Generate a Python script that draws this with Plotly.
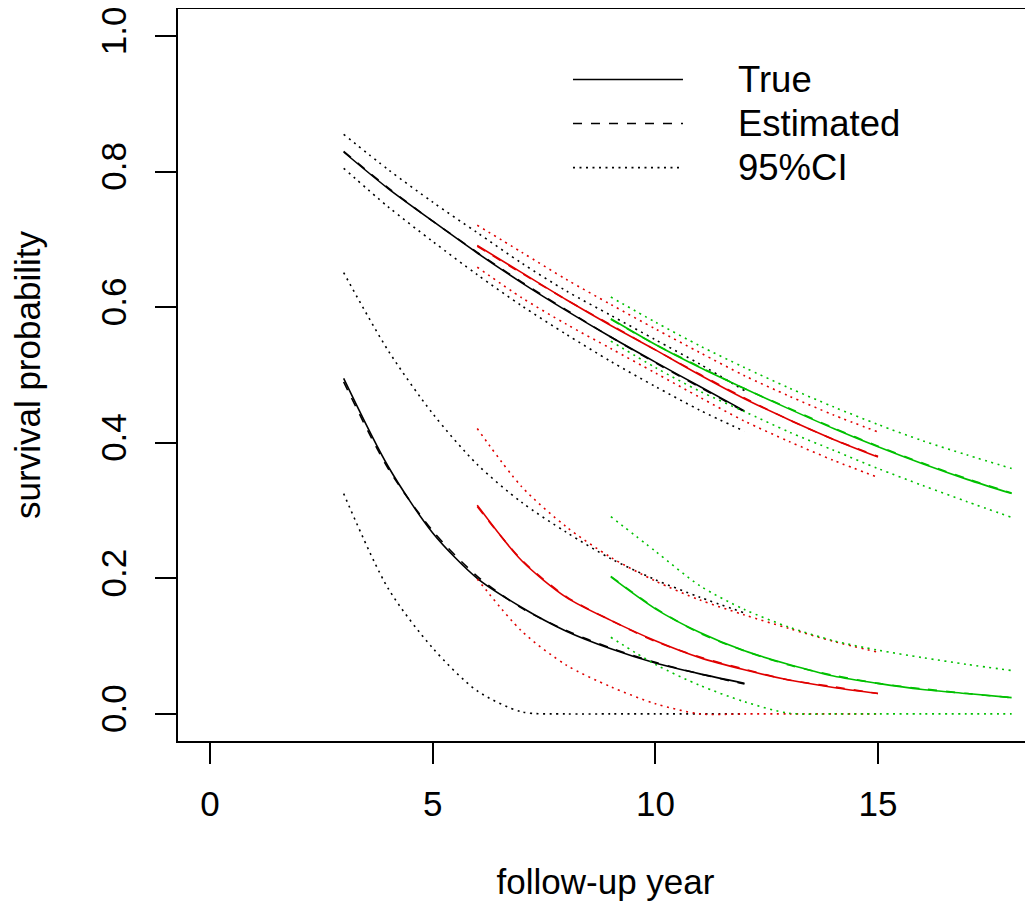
import plotly.graph_objects as go

# ---------------- data ----------------
years_black = [3, 4, 5, 6, 7, 8, 9, 10, 11, 12]
years_red = [6, 7, 8, 9, 10, 11, 12, 13, 14, 15]
years_green = [9, 10, 11, 12, 13, 14, 15, 16, 17, 18]

# upper (high-survival) curves
hi_true_black = [0.829, 0.775, 0.727, 0.680, 0.636, 0.595, 0.556, 0.519, 0.483, 0.447]
hi_est_black = [0.830, 0.776, 0.727, 0.681, 0.637, 0.596, 0.556, 0.518, 0.482, 0.446]
hi_ciup_black = [0.855, 0.803, 0.755, 0.710, 0.665, 0.624, 0.588, 0.552, 0.516, 0.477]
hi_cilo_black = [0.805, 0.748, 0.697, 0.648, 0.602, 0.560, 0.520, 0.483, 0.448, 0.417]

hi_true_red = [0.691, 0.651, 0.611, 0.573, 0.537, 0.500, 0.465, 0.434, 0.405, 0.379]
hi_est_red = [0.690, 0.650, 0.611, 0.574, 0.537, 0.501, 0.466, 0.434, 0.405, 0.380]
hi_ciup_red = [0.721, 0.681, 0.641, 0.604, 0.568, 0.533, 0.499, 0.469, 0.441, 0.416]
hi_cilo_red = [0.659, 0.614, 0.575, 0.539, 0.503, 0.467, 0.432, 0.402, 0.374, 0.349]

hi_true_green = [0.583, 0.545, 0.511, 0.480, 0.450, 0.421, 0.394, 0.369, 0.346, 0.325]
hi_est_green = [0.582, 0.545, 0.512, 0.480, 0.451, 0.422, 0.395, 0.370, 0.347, 0.326]
hi_ciup_green = [0.615, 0.578, 0.543, 0.511, 0.481, 0.453, 0.427, 0.403, 0.382, 0.362]
hi_cilo_green = [0.550, 0.511, 0.476, 0.446, 0.416, 0.389, 0.362, 0.337, 0.313, 0.290]

# lower (low-survival) curves
lo_true_black = [0.495, 0.365, 0.267, 0.200, 0.157, 0.122, 0.096, 0.075, 0.059, 0.045]
lo_est_black = [0.490, 0.362, 0.270, 0.203, 0.156, 0.123, 0.097, 0.076, 0.059, 0.044]
lo_ciup_black = [0.651, 0.536, 0.443, 0.368, 0.312, 0.268, 0.229, 0.198, 0.172, 0.149]
lo_cilo_black = [0.325, 0.185, 0.097, 0.034, 0.003, 0.0, 0.0, 0.0, 0.0, 0.0]

lo_true_red = [0.308, 0.226, 0.172, 0.138, 0.108, 0.083, 0.065, 0.050, 0.039, 0.030]
lo_est_red = [0.306, 0.227, 0.173, 0.138, 0.107, 0.084, 0.066, 0.050, 0.040, 0.030]
lo_ciup_red = [0.421, 0.335, 0.276, 0.231, 0.196, 0.168, 0.146, 0.126, 0.107, 0.091]
lo_cilo_red = [0.199, 0.122, 0.072, 0.040, 0.015, 0.0, 0.0, 0.0, 0.0, 0.0]

lo_true_green = [0.202, 0.155, 0.120, 0.093, 0.073, 0.056, 0.045, 0.036, 0.030, 0.024]
lo_est_green = [0.203, 0.156, 0.119, 0.093, 0.072, 0.057, 0.045, 0.037, 0.030, 0.024]
lo_ciup_green = [0.291, 0.240, 0.189, 0.154, 0.128, 0.108, 0.094, 0.083, 0.073, 0.064]
lo_cilo_green = [0.113, 0.073, 0.042, 0.018, 0.001, 0.0, 0.0, 0.0, 0.0, 0.0]

x_ticks = [0, 5, 10, 15]
y_ticks = [0.0, 0.2, 0.4, 0.6, 0.8, 1.0]
legend_labels = ["True", "Estimated", "95%CI"]

# ---------------- styles ----------------
FONT = "Liberation Sans, Arial, sans-serif"
FS = 35
LW = 1.6
DOT = "2px,4.5px"
col_black = "#000000"
col_red = "#E00000"
col_green = "#00C000"

groups = [
    (years_black, col_black,
     [hi_true_black, hi_est_black, hi_ciup_black, hi_cilo_black,
      lo_true_black, lo_est_black, lo_ciup_black, lo_cilo_black]),
    (years_red, col_red,
     [hi_true_red, hi_est_red, hi_ciup_red, hi_cilo_red,
      lo_true_red, lo_est_red, lo_ciup_red, lo_cilo_red]),
    (years_green, col_green,
     [hi_true_green, hi_est_green, hi_ciup_green, hi_cilo_green,
      lo_true_green, lo_est_green, lo_ciup_green, lo_cilo_green]),
]
dashes = ["solid", "dash", DOT, DOT, "solid", "dash", DOT, DOT]

fig = go.Figure()
for years, col, series in groups:
    for ys, d in zip(series, dashes):
        fig.add_trace(go.Scatter(
            x=years, y=ys, mode="lines",
            line=dict(color=col, width=LW, dash=d, shape="spline", smoothing=0.8),
            showlegend=False, hoverinfo="skip"))

# manual R-style legend (in data coordinates)
leg_x0, leg_x1, leg_tx = 8.15, 10.62, 11.80
leg_y = [0.936, 0.871, 0.806]
for lab, d, yy in zip(legend_labels, ["solid", "dash", DOT], leg_y):
    fig.add_shape(type="line", x0=leg_x0, x1=leg_x1, y0=yy, y1=yy, xref="x", yref="y",
                  line=dict(color="black", width=LW, dash=d))
    fig.add_annotation(x=leg_tx, y=yy, xref="x", yref="y", text=lab, showarrow=False,
                       xanchor="left", yanchor="middle",
                       font=dict(family=FONT, size=36.5, color="black"))

axis_common = dict(
    showgrid=False, zeroline=False, showline=True, linecolor="black", linewidth=1.5,
    ticks="outside", ticklen=21, tickwidth=1.5, tickcolor="black",
    tickfont=dict(family=FONT, size=FS, color="black"),
    title_font=dict(family=FONT, size=FS, color="black"),
    ticklabeloverflow="allow",
)

fig.update_xaxes(range=[-0.72, 18.48], tickvals=x_ticks, ticktext=[str(v) for v in x_ticks],
                 mirror=True, ticklabelstandoff=10,
                 title_text="follow-up year", title_standoff=48,
                 **axis_common)
fig.update_yaxes(range=[-0.04, 1.04], tickvals=y_ticks, ticktext=[f"{v:.1f}" for v in y_ticks],
                 tickangle=-90, ticklabelstandoff=15,
                 title_text="survival probability", title_standoff=48,
                 **axis_common)

fig.update_layout(
    width=1025, height=911,
    margin=dict(l=170, r=0, t=1, b=178, autoexpand=False),
    paper_bgcolor="white", plot_bgcolor="white",
    font=dict(family=FONT, size=FS, color="black"),
)
fig.write_html("out.html")
